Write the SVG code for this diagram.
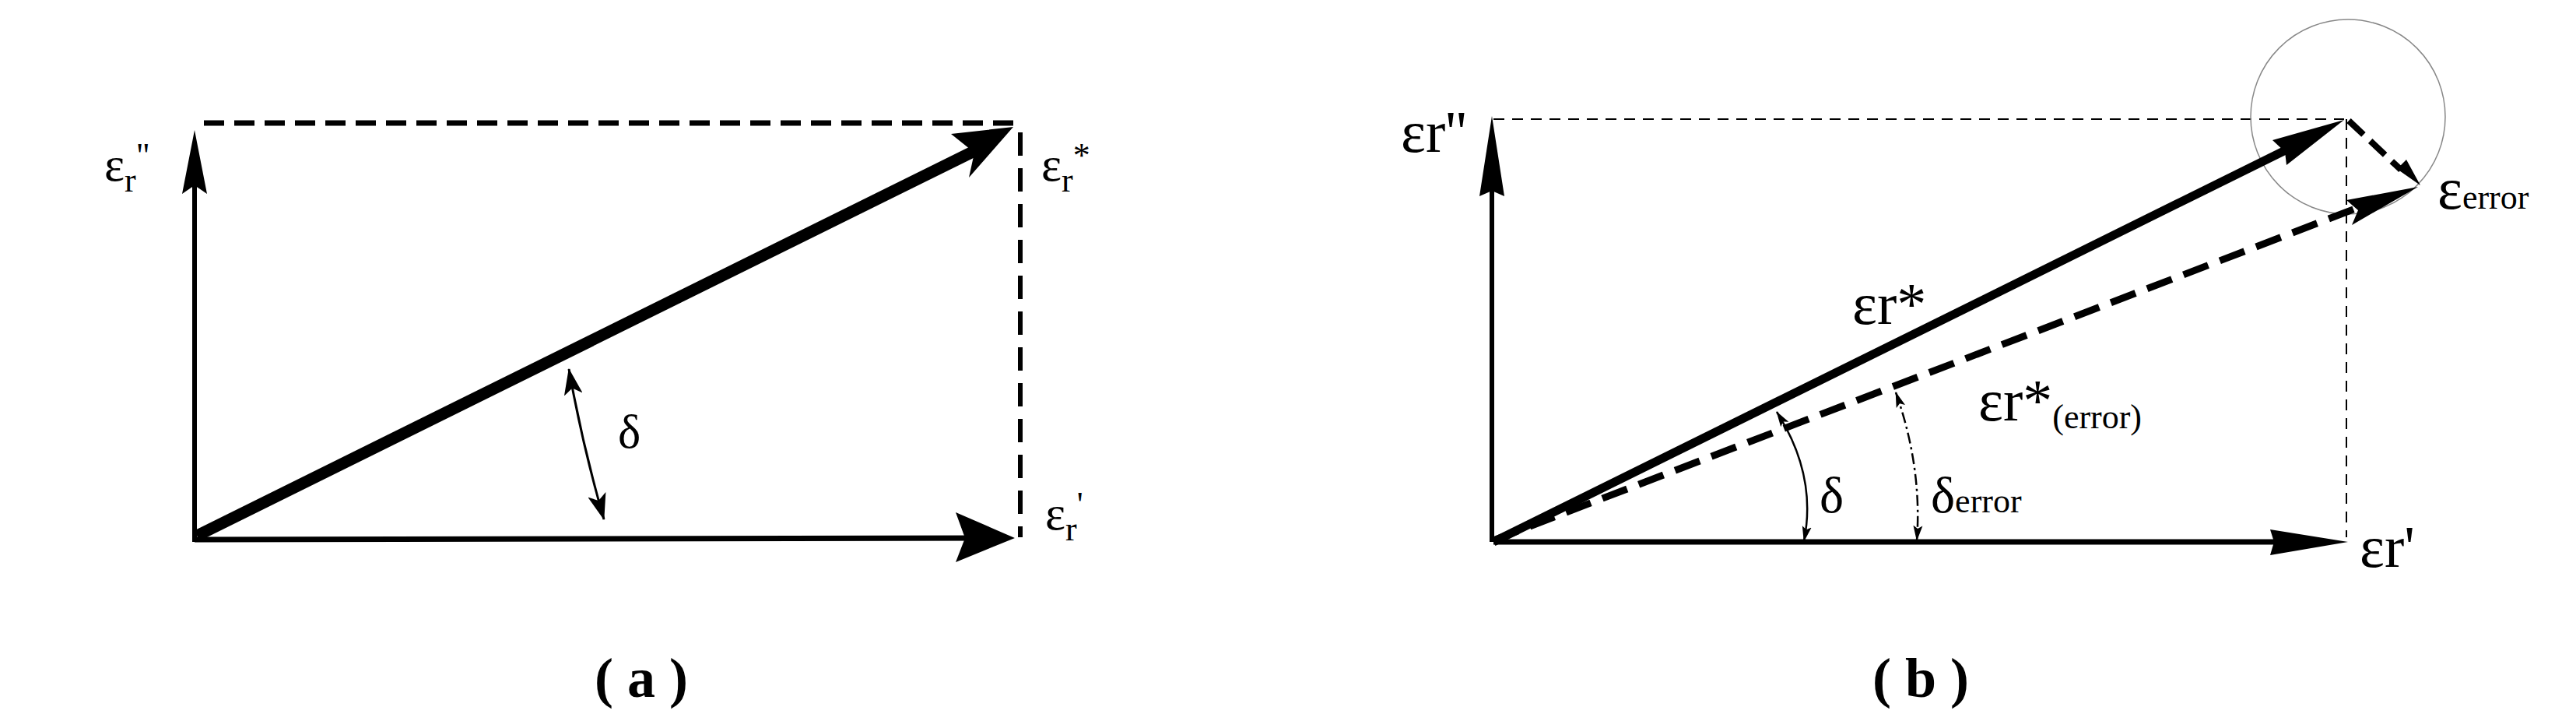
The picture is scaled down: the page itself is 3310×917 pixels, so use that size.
<svg xmlns="http://www.w3.org/2000/svg" width="3310" height="917" viewBox="0 0 3310 917">
<style>
text{font-family:"Liberation Serif","DejaVu Serif",serif;fill:#000}
.lbl{font-size:62px}
.sub{font-size:44px}
.big{font-size:76px}
.cap{font-size:72px;font-weight:bold}
.thin{stroke:#000;stroke-width:2;fill:none;stroke-dasharray:14 10}
</style>
<defs>
<marker id="sm" markerWidth="20" markerHeight="14" refX="19" refY="7" orient="auto-start-reverse" markerUnits="userSpaceOnUse"><path d="M0,1 L20,7 L0,13 L4,7 Z" fill="#000"/></marker>
<marker id="la" markerWidth="34" markerHeight="24" refX="33" refY="12" orient="auto-start-reverse" markerUnits="userSpaceOnUse"><path d="M0,0 L34,12 L0,24 L8,12 Z" fill="#000"/></marker>
</defs>
<rect width="3310" height="917" fill="#fff"/>
<g id="connectors">
<!-- panel a -->
<line x1="262" y1="158" x2="1309" y2="158" stroke="#000" stroke-width="7" stroke-dasharray="26 13"/>
<line x1="1311" y1="170" x2="1311" y2="690" stroke="#000" stroke-width="6" stroke-dasharray="30 16"/>
<line x1="250" y1="696" x2="250" y2="200" stroke="#000" stroke-width="6"/>
<path d="M250,167 L266,249 L250,238 L234,249 Z" fill="#000"/>
<line x1="250" y1="693" x2="1270" y2="691" stroke="#000" stroke-width="7"/>
<path d="M1304,691 L1228,658 L1240,691 L1228,722 Z" fill="#000"/>
<line x1="253" y1="688" x2="1270" y2="185" stroke="#000" stroke-width="15"/>
<path d="M1302,163 L1222,172 L1252,196 L1245,228 Z" fill="#000"/>
<path d="M731,474 Q748,570 776,667" fill="none" stroke="#000" stroke-width="3" marker-start="url(#la)" marker-end="url(#la)"/>
<!-- panel b -->
<line x1="1919" y1="153" x2="3012" y2="153" class="thin"/>
<line x1="3015" y1="153" x2="3015" y2="690" class="thin"/>
<circle cx="3017" cy="150" r="125" fill="none" stroke="#888" stroke-width="1.5"/>
<line x1="1917" y1="696" x2="1917" y2="180" stroke="#000" stroke-width="6"/>
<path d="M1917,149 L1933,252 L1917,245 L1901,252 Z" fill="#000"/>
<line x1="1919" y1="696" x2="2950" y2="696" stroke="#000" stroke-width="7"/>
<path d="M3017,696 L2917,680 L2922,696 L2917,713 Z" fill="#000"/>
<line x1="1919" y1="696" x2="2975" y2="174" stroke="#000" stroke-width="11"/>
<path d="M3012,154 L2920,180 L2936,195 L2938,212 Z" fill="#000"/>
<line x1="1919" y1="694" x2="3060" y2="255" stroke="#000" stroke-width="9" stroke-dasharray="34 16"/>
<path d="M3107,240 L3015,257 L3030,270 L3022,289 Z" fill="#000"/>
<line x1="3018" y1="155" x2="3085" y2="218" stroke="#000" stroke-width="8" stroke-dasharray="26 12"/>
<path d="M3110,238 L3070,210 L3082,215 L3092,205 Z" fill="#000"/>
<path d="M2283,529 Q2335,610 2318,695" fill="none" stroke="#000" stroke-width="2.5" marker-start="url(#sm)" marker-end="url(#sm)"/>
<path d="M2436,504 Q2470,600 2463,694" fill="none" stroke="#000" stroke-width="2.5" stroke-dasharray="14 5 3 5" marker-start="url(#sm)" marker-end="url(#sm)"/>
</g>
<g id="labels-a">
<text x="134" y="232" class="lbl">ε<tspan class="sub" dy="14">r</tspan><tspan dy="-32" class="sub">"</tspan></text>
<text x="1338" y="232" class="lbl">ε<tspan class="sub" dy="14">r</tspan><tspan dy="-32" class="sub">*</tspan></text>
<text x="1343" y="680" class="lbl">ε<tspan class="sub" dy="14">r</tspan><tspan dy="-32" class="sub">'</tspan></text>
<text x="794" y="575" class="lbl">δ</text>
<text x="824" y="895" class="cap" text-anchor="middle">( a )</text>
</g>
<g id="labels-b">
<text x="1800" y="195" class="big">εr''</text>
<text x="3132" y="268" class="big">ε<tspan class="sub">error</tspan></text>
<text x="2380" y="416" class="big">εr*</text>
<text x="2542" y="540" class="big">εr*<tspan class="sub" dy="10">(error)</tspan></text>
<text x="2338" y="658" style="font-size:66px">δ</text>
<text x="2481" y="658" style="font-size:66px">δ<tspan class="sub">error</tspan></text>
<text x="3032" y="728" class="big">εr'</text>
<text x="2468" y="895" class="cap" text-anchor="middle">( b )</text>
</g>
</svg>
